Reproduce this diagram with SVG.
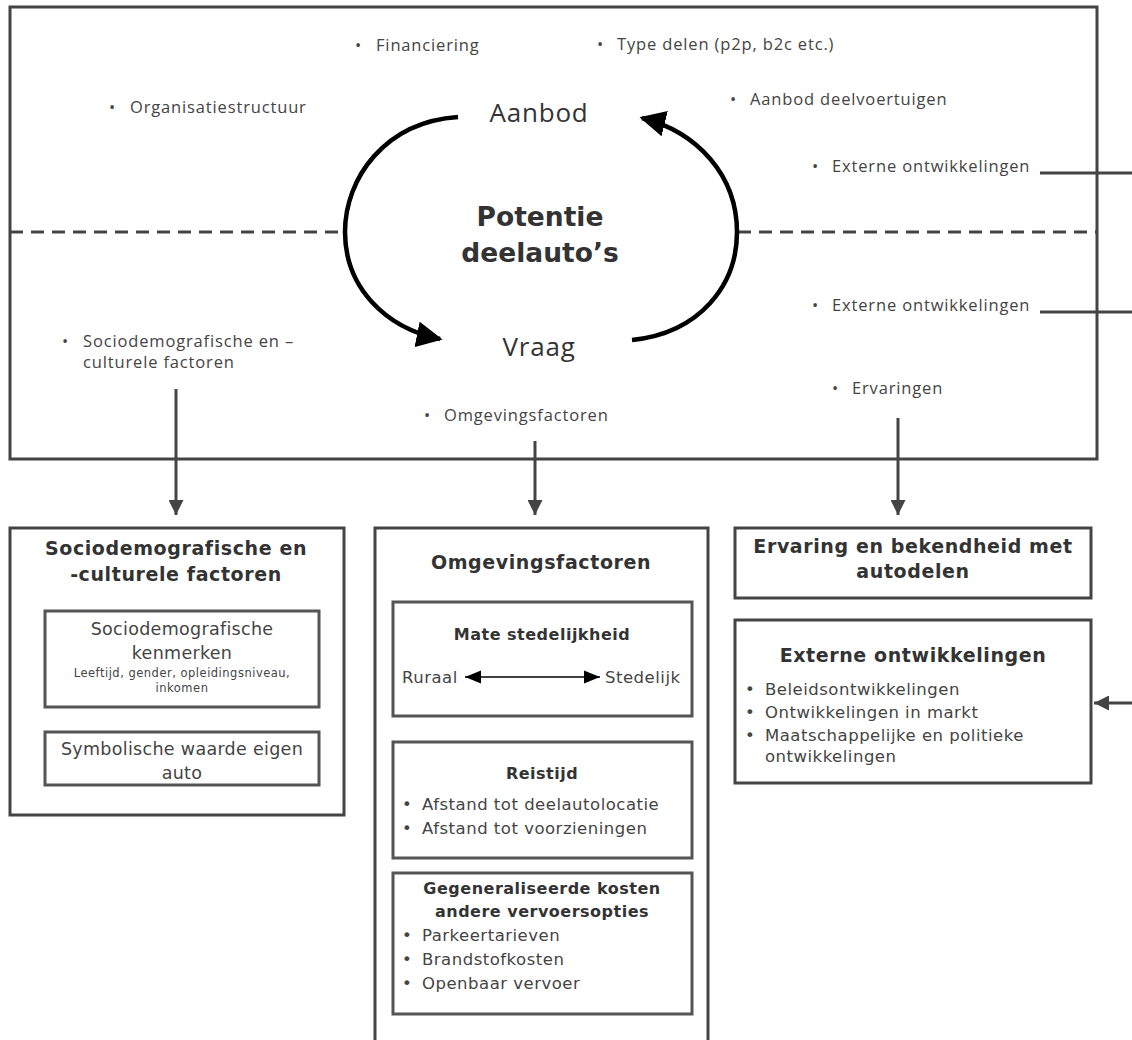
<svg xmlns="http://www.w3.org/2000/svg" width="1132" height="1040" viewBox="0 0 1132 1040">
<defs>
<marker id="ah" viewBox="0 0 10 10" refX="10" refY="5" markerWidth="5" markerHeight="5" markerUnits="strokeWidth" orient="auto"><path d="M0,0 L10,5 L0,10 z" fill="#444"/></marker>
<marker id="sm" viewBox="0 0 10 10" refX="10" refY="5" markerWidth="16" markerHeight="16" markerUnits="userSpaceOnUse" orient="auto-start-reverse"><path d="M0,1 L10,5 L0,9 z" fill="#000"/></marker>
<marker id="big" viewBox="0 0 10 10" refX="9" refY="5" markerWidth="26" markerHeight="26" markerUnits="userSpaceOnUse" orient="auto"><path d="M0,0 L10,5 L0,10 z" fill="#000"/></marker>
</defs>
<style>
.box{fill:#fff;stroke:#444;stroke-width:3}
.ibox{fill:#fff;stroke:#555;stroke-width:3}
.lt{font-family:"Open Sans","Noto Sans",sans-serif;font-size:16.5px;letter-spacing:0.85px;fill:#444}
.hd{font-family:"DejaVu Sans",Verdana,sans-serif;font-weight:bold;font-size:19px;letter-spacing:0.6px;fill:#333;text-anchor:middle}
.sh{font-family:"DejaVu Sans",Verdana,sans-serif;font-weight:bold;font-size:16px;letter-spacing:0.5px;fill:#333;text-anchor:middle}
.tx{font-family:"DejaVu Sans",Verdana,sans-serif;font-size:16.5px;letter-spacing:0.5px;fill:#444}
.tc{font-family:"DejaVu Sans",Verdana,sans-serif;font-size:17.5px;letter-spacing:0.3px;fill:#444;text-anchor:middle}
.ln{stroke:#444;stroke-width:3;fill:none}
.dash{stroke:#444;stroke-width:3;stroke-dasharray:13,8;fill:none}
.arc{stroke:#000;stroke-width:4.5;fill:none}
.big{font-family:"Open Sans","Noto Sans",sans-serif;font-size:26px;letter-spacing:0.8px;fill:#333;text-anchor:middle}
</style>

<g id="main-frame">
<rect class="box" x="10" y="7" width="1087" height="452"/>
<line class="dash" x1="10" y1="232" x2="343" y2="232"/>
<line class="dash" x1="738" y1="232" x2="1097" y2="232"/>
<text class="lt" x="355" y="51">•</text><text class="lt" x="376" y="51">Financiering</text>
<text class="lt" x="597" y="50">•</text><text class="lt" x="617" y="50">Type delen (p2p, b2c etc.)</text>
<text class="lt" x="109" y="113">•</text><text class="lt" x="130" y="113">Organisatiestructuur</text>
<text class="lt" x="730" y="105">•</text><text class="lt" x="750" y="105">Aanbod deelvoertuigen</text>
<text class="lt" x="812" y="172">•</text><text class="lt" x="832" y="172">Externe ontwikkelingen</text>
<text class="lt" x="812" y="311">•</text><text class="lt" x="832" y="311">Externe ontwikkelingen</text>
<text class="lt" x="62" y="347">•</text><text class="lt" x="83" y="347">Sociodemografische en –</text>
<text class="lt" x="83" y="368">culturele factoren</text>
<text class="lt" x="832" y="394">•</text><text class="lt" x="852" y="394">Ervaringen</text>
<text class="lt" x="424" y="421">•</text><text class="lt" x="444" y="421">Omgevingsfactoren</text>
</g>

<g id="aanbod"><text class="big" x="539" y="122">Aanbod</text></g>
<g id="vraag"><text class="big" x="539" y="356">Vraag</text></g>
<g id="potentie">
<text x="540" y="226" font-family="'DejaVu Sans',Verdana,sans-serif" font-weight="bold" font-size="26.5" fill="#333" text-anchor="middle">Potentie</text>
<text x="540" y="262" font-family="'DejaVu Sans',Verdana,sans-serif" font-weight="bold" font-size="26.5" fill="#333" text-anchor="middle">deelauto’s</text>
</g>

<g id="box-socio">
<rect class="box" x="10" y="528" width="334" height="287"/>
<text class="hd" x="176" y="555">Sociodemografische en</text>
<text class="hd" x="176" y="581">-culturele factoren</text>
<rect class="ibox" x="45" y="611" width="274" height="96"/>
<text class="tc" x="182" y="635">Sociodemografische</text>
<text class="tc" x="182" y="659">kenmerken</text>
<text x="182" y="677" font-family="'DejaVu Sans',Verdana,sans-serif" font-size="11.5" letter-spacing="0.5" fill="#444" text-anchor="middle">Leeftijd, gender, opleidingsniveau,</text>
<text x="182" y="692" font-family="'DejaVu Sans',Verdana,sans-serif" font-size="11.5" letter-spacing="0.5" fill="#444" text-anchor="middle">inkomen</text>
<rect class="ibox" x="45" y="732" width="274" height="53"/>
<text class="tc" x="182" y="755">Symbolische waarde eigen</text>
<text class="tc" x="182" y="779">auto</text>
</g>

<g id="box-omgeving">
<rect class="box" x="375" y="528" width="333" height="520"/>
<text class="hd" x="541" y="569">Omgevingsfactoren</text>
<rect class="ibox" x="393" y="602" width="299" height="114"/>
<text class="sh" x="542" y="640">Mate stedelijkheid</text>
<text class="tx" x="402" y="683">Ruraal</text>
<line x1="465" y1="677" x2="600" y2="677" stroke="#000" stroke-width="1.5" marker-start="url(#sm)" marker-end="url(#sm)"/>
<text class="tx" x="605" y="683">Stedelijk</text>
<rect class="ibox" x="393" y="742" width="299" height="116"/>
<text class="sh" x="542" y="779">Reistijd</text>
<text class="tx" x="402" y="810">•</text><text class="tx" x="422" y="810">Afstand tot deelautolocatie</text>
<text class="tx" x="402" y="834">•</text><text class="tx" x="422" y="834">Afstand tot voorzieningen</text>
<rect class="ibox" x="393" y="873" width="299" height="141"/>
<text class="sh" x="542" y="894">Gegeneraliseerde kosten</text>
<text class="sh" x="542" y="917">andere vervoersopties</text>
<text class="tx" x="402" y="941">•</text><text class="tx" x="422" y="941">Parkeertarieven</text>
<text class="tx" x="402" y="965">•</text><text class="tx" x="422" y="965">Brandstofkosten</text>
<text class="tx" x="402" y="989">•</text><text class="tx" x="422" y="989">Openbaar vervoer</text>
</g>

<g id="box-ervaring">
<rect class="box" x="735" y="528" width="356" height="70"/>
<text class="hd" x="913" y="553">Ervaring en bekendheid met</text>
<text class="hd" x="913" y="578">autodelen</text>
</g>

<g id="box-extern">
<rect class="box" x="735" y="620" width="356" height="163"/>
<text class="hd" x="913" y="662">Externe ontwikkelingen</text>
<text class="tx" x="745" y="695">•</text><text class="tx" x="765" y="695">Beleidsontwikkelingen</text>
<text class="tx" x="745" y="718">•</text><text class="tx" x="765" y="718">Ontwikkelingen in markt</text>
<text class="tx" x="745" y="741">•</text><text class="tx" x="765" y="741">Maatschappelijke en politieke</text>
<text class="tx" x="765" y="762">ontwikkelingen</text>
</g>

<g id="connectors">
<path class="arc" d="M458,117 C385,122 345,178 345,232 C345,287 385,328 440,339" marker-end="url(#big)"/>
<path class="arc" d="M632,340 C700,333 737,285 737,232 C737,176 698,132 642,118" marker-end="url(#big)"/>
<line class="ln" x1="176" y1="389" x2="176" y2="515" marker-end="url(#ah)"/>
<line class="ln" x1="535" y1="441" x2="535" y2="515" marker-end="url(#ah)"/>
<line class="ln" x1="898" y1="418" x2="898" y2="515" marker-end="url(#ah)"/>
<line class="ln" x1="1040" y1="173" x2="1132" y2="173"/>
<line class="ln" x1="1040" y1="312" x2="1132" y2="312"/>
<line class="ln" x1="1132" y1="703" x2="1094" y2="703" marker-end="url(#ah)"/>
</g>
</svg>
